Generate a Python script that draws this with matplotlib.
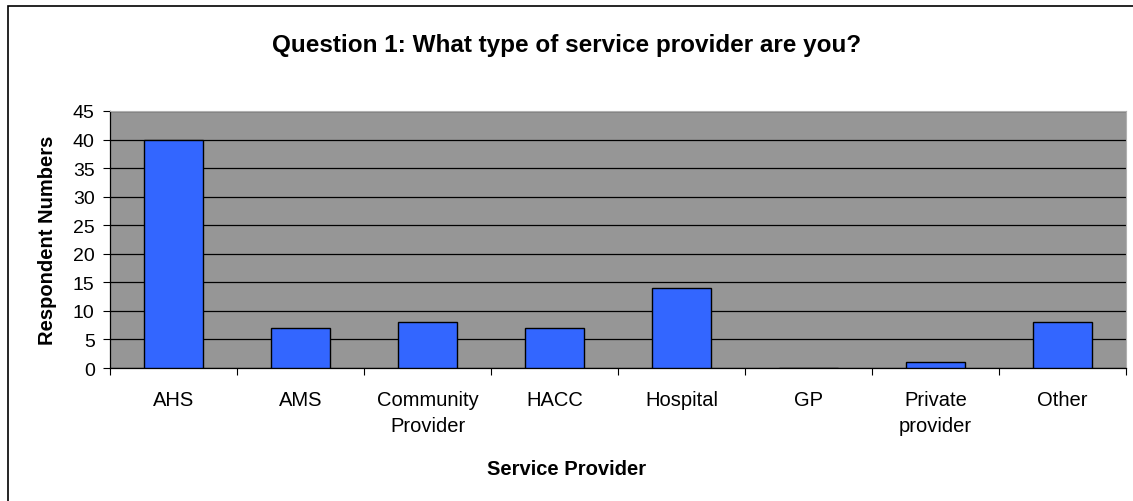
import matplotlib
matplotlib.use("Agg")
import matplotlib.pyplot as plt
import numpy as np
from matplotlib.patches import Rectangle

categories = ["AHS", "AMS", "Community\nProvider", "HACC", "Hospital", "GP",
              "Private\nprovider", "Other"]
counts = [40, 7, 8, 7, 14, 0, 1, 8]

plt.rcParams["font.family"] = ["Liberation Sans", "DejaVu Sans"]

fig = plt.figure(figsize=(11.33, 5.02), dpi=100)
ax = fig.add_axes([0.0971, 0.2649, 0.8967, 0.512])

# outer chart frame (right/bottom edges fall off the image)
fig.patches.append(Rectangle((8 / 1133, -0.1), 1.2, 1 - 7 / 502 + 0.1,
                             transform=fig.transFigure, fill=False,
                             edgecolor="black", lw=1.2))

x = np.arange(len(categories))
ax.set_facecolor("#969696")
ax.bar(x, counts, width=0.47, color="#3366FF", edgecolor="black", lw=1, zorder=3)

ax.set_xlim(-0.5, len(categories) - 0.5)
ax.set_ylim(0, 45)
ax.set_yticks(range(0, 46, 5))
ax.yaxis.grid(True, color="black", lw=0.9, zorder=1)
ax.set_axisbelow(True)

ax.set_xticks(x)
ax.set_xticklabels(categories, fontsize=14.5, linespacing=1.45)
ax.set_xticks(np.arange(-0.5, len(categories), 1), minor=True)
ax.tick_params(axis="x", which="major", length=0, pad=16)
ax.tick_params(axis="x", which="minor", length=5, direction="out", width=0.8)
ax.tick_params(axis="y", length=5, direction="out", width=0.8, labelsize=14, pad=6)

for s in ["top", "right"]:
    ax.spines[s].set_color("#b0b0b0")
for s in ["left", "bottom"]:
    ax.spines[s].set_color("black")
    ax.spines[s].set_linewidth(0.9)

fig.text(0.5, 0.054, "Service Provider", ha="center", va="baseline",
         fontsize=14.5, fontweight="bold")
fig.text(0.0415, 0.521, "Respondent Numbers", ha="center", va="center",
         rotation=90, fontsize=14.5, fontweight="bold")
fig.text(0.5, 0.896, "Question 1: What type of service provider are you?",
         ha="center", va="baseline", fontsize=17.5, fontweight="bold")

fig.savefig("out.png", dpi=100)
